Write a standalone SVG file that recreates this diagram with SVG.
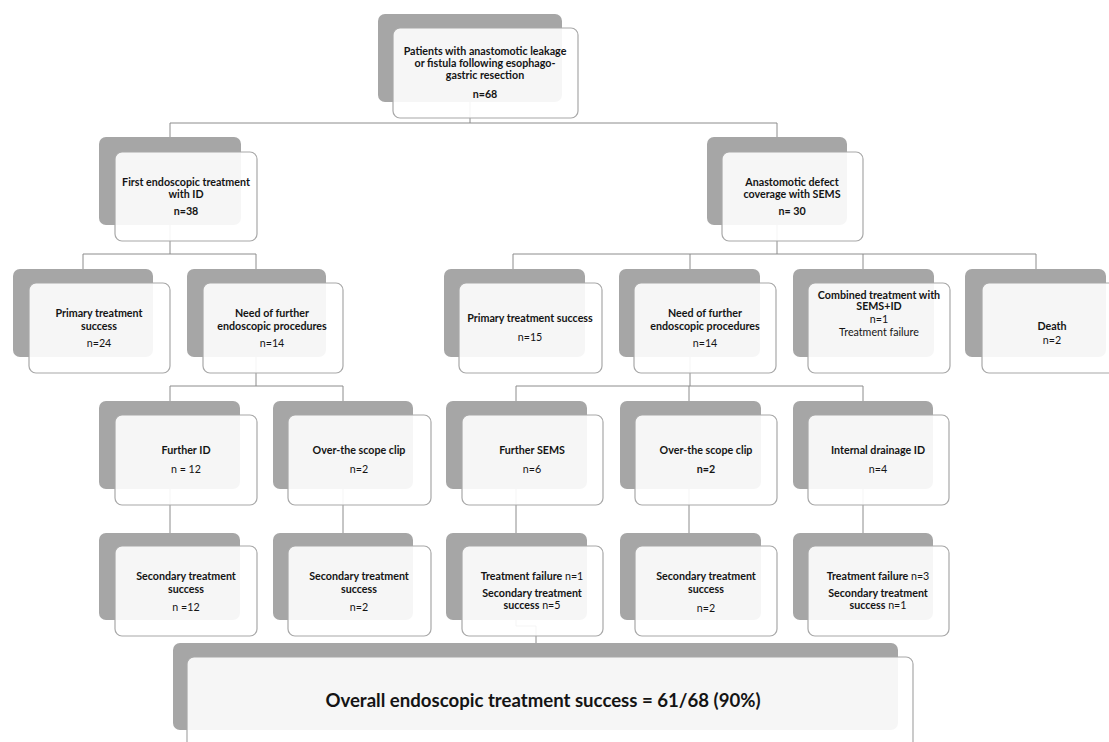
<svg xmlns="http://www.w3.org/2000/svg" width="1109" height="742" viewBox="0 0 1109 742">
<style>
.bg{fill:#a6a6a6;}
.fg{fill:#ffffff;fill-opacity:0.9;stroke:#a8a8a8;stroke-width:1.2;}
.c{fill:none;stroke:#8c8c8c;stroke-width:1;}
text{font-family:Lato,"Liberation Sans",sans-serif;font-size:10.7px;fill:#141414;text-anchor:middle;}
.b{font-weight:bold;}
.n{font-weight:normal;}
.big{font-size:18.6px;font-weight:bold;}
</style>
<rect width="1109" height="742" fill="#ffffff"/>
<g id="connectors">
<path class="c" d="M470,102V123M170,123H777M170,123V137M777,123V137"/>
<path class="c" d="M170,225V254M83,254H256M83,254V269M256,254V269"/>
<path class="c" d="M777,225V254M513,254H1036M513,254V269M690,254V269M863,254V269M1036,254V269"/>
<path class="c" d="M256,357V386M170,386H343M170,386V401M343,386V401"/>
<path class="c" d="M690,357V386M516,386H863M516,386V401M689,386V401M863,386V401"/>
<path class="c" d="M170,489V533M343,489V533M516,489V533M689,489V533M863,489V533"/>
<path class="c" d="M516,620V626H536V643"/>
</g>
<g id="n_top">
<rect class="bg" x="378" y="14" width="184" height="88" rx="7"/>
<rect class="fg" x="393" y="28" width="185" height="90" rx="7"/>
<text class="b" x="485" y="55">Patients with anastomotic leakage</text>
<text class="b" x="485" y="67">or fistula following esophago-</text>
<text class="b" x="485" y="79">gastric resection</text>
<text class="b" x="485" y="98">n=68</text>
</g>
<g id="n_first_id">
<rect class="bg" x="99" y="137" width="142" height="88" rx="7"/>
<rect class="fg" x="115" y="152" width="142" height="89" rx="7"/>
<text class="b" x="186" y="186">First endoscopic treatment</text>
<text class="b" x="186" y="198">with ID</text>
<text class="b" x="186" y="215">n=38</text>
</g>
<g id="n_sems">
<rect class="bg" x="707" y="137" width="140" height="88" rx="7"/>
<rect class="fg" x="722" y="152" width="141" height="89" rx="7"/>
<text class="b" x="792" y="186">Anastomotic defect</text>
<text class="b" x="792" y="198">coverage with SEMS</text>
<text class="b" x="792" y="215">n= 30</text>
</g>
<g id="n_primary_id">
<rect class="bg" x="13" y="269" width="140" height="88" rx="7"/>
<rect class="fg" x="29" y="283" width="141" height="90" rx="7"/>
<text class="b" x="99" y="317">Primary treatment</text>
<text class="b" x="99" y="330">success</text>
<text class="n" x="99" y="347">n=24</text>
</g>
<g id="n_further_id_need">
<rect class="bg" x="187" y="269" width="139" height="88" rx="7"/>
<rect class="fg" x="203" y="283" width="140" height="90" rx="7"/>
<text class="b" x="272" y="317">Need of further</text>
<text class="b" x="272" y="330">endoscopic procedures</text>
<text class="n" x="272" y="347">n=14</text>
</g>
<g id="n_primary_sems">
<rect class="bg" x="444" y="269" width="141" height="88" rx="7"/>
<rect class="fg" x="459" y="283" width="143" height="90" rx="7"/>
<text class="b" x="530" y="322">Primary treatment success</text>
<text class="n" x="530" y="341">n=15</text>
</g>
<g id="n_further_sems_need">
<rect class="bg" x="619" y="269" width="141" height="88" rx="7"/>
<rect class="fg" x="634" y="283" width="142" height="90" rx="7"/>
<text class="b" x="705" y="317">Need of further</text>
<text class="b" x="705" y="330">endoscopic procedures</text>
<text class="n" x="705" y="347">n=14</text>
</g>
<g id="n_combined">
<rect class="bg" x="793" y="269" width="141" height="88" rx="7"/>
<rect class="fg" x="808" y="283" width="142" height="90" rx="7"/>
<text class="b" x="879" y="299">Combined treatment with</text>
<text class="b" x="879" y="310">SEMS+ID</text>
<text class="n" x="879" y="323">n=1</text>
<text class="n" x="879" y="336">Treatment failure</text>
</g>
<g id="n_death">
<rect class="bg" x="965" y="269" width="141" height="88" rx="7"/>
<rect class="fg" x="982" y="283" width="142" height="90" rx="7"/>
<text class="b" x="1052" y="330">Death</text>
<text class="n" x="1052" y="344">n=2</text>
</g>
<g id="n_further_id">
<rect class="bg" x="99" y="401" width="141" height="88" rx="7"/>
<rect class="fg" x="115" y="415" width="142" height="90" rx="7"/>
<text class="b" x="186" y="454">Further ID</text>
<text class="n" x="186" y="473">n = 12</text>
</g>
<g id="n_otsc_left">
<rect class="bg" x="273" y="401" width="140" height="88" rx="7"/>
<rect class="fg" x="288" y="415" width="143" height="90" rx="7"/>
<text class="b" x="359" y="454">Over-the scope clip</text>
<text class="n" x="359" y="473">n=2</text>
</g>
<g id="n_further_sems">
<rect class="bg" x="446" y="401" width="141" height="88" rx="7"/>
<rect class="fg" x="462" y="415" width="141" height="90" rx="7"/>
<text class="b" x="532" y="454">Further SEMS</text>
<text class="n" x="532" y="473">n=6</text>
</g>
<g id="n_otsc_right">
<rect class="bg" x="620" y="401" width="141" height="88" rx="7"/>
<rect class="fg" x="635" y="415" width="142" height="90" rx="7"/>
<text class="b" x="706" y="454">Over-the scope clip</text>
<text class="b" x="706" y="473">n=2</text>
</g>
<g id="n_internal_drainage">
<rect class="bg" x="793" y="401" width="140" height="88" rx="7"/>
<rect class="fg" x="808" y="415" width="141" height="90" rx="7"/>
<text class="b" x="878" y="454">Internal drainage ID</text>
<text class="n" x="878" y="473">n=4</text>
</g>
<g id="n_sec_id">
<rect class="bg" x="99" y="533" width="141" height="87" rx="7"/>
<rect class="fg" x="115" y="546" width="142" height="90" rx="7"/>
<text class="b" x="186" y="580">Secondary treatment</text>
<text class="b" x="186" y="593">success</text>
<text class="n" x="186" y="611">n =12</text>
</g>
<g id="n_sec_otsc_left">
<rect class="bg" x="273" y="533" width="140" height="87" rx="7"/>
<rect class="fg" x="288" y="546" width="143" height="90" rx="7"/>
<text class="b" x="359" y="580">Secondary treatment</text>
<text class="b" x="359" y="593">success</text>
<text class="n" x="359" y="611">n=2</text>
</g>
<g id="n_sec_sems">
<rect class="bg" x="446" y="533" width="141" height="87" rx="7"/>
<rect class="fg" x="462" y="546" width="141" height="90" rx="7"/>
<text x="532" y="580"><tspan class="b">Treatment failure</tspan><tspan class="n"> n=1</tspan></text>
<text class="b" x="532" y="597">Secondary treatment</text>
<text x="532" y="609"><tspan class="b">success</tspan><tspan class="n">  n=5</tspan></text>
</g>
<g id="n_sec_otsc_right">
<rect class="bg" x="620" y="533" width="141" height="87" rx="7"/>
<rect class="fg" x="635" y="546" width="142" height="90" rx="7"/>
<text class="b" x="706" y="580">Secondary treatment</text>
<text class="b" x="706" y="593">success</text>
<text class="n" x="706" y="612">n=2</text>
</g>
<g id="n_sec_drainage">
<rect class="bg" x="793" y="533" width="140" height="87" rx="7"/>
<rect class="fg" x="808" y="546" width="141" height="90" rx="7"/>
<text x="878" y="580"><tspan class="b">Treatment failure</tspan><tspan class="n"> n=3</tspan></text>
<text class="b" x="878" y="597">Secondary treatment</text>
<text x="878" y="609"><tspan class="b">success</tspan><tspan class="n"> n=1</tspan></text>
</g>
<g id="n_overall">
<rect class="bg" x="173" y="643" width="725" height="87" rx="7"/>
<rect class="fg" x="187" y="657" width="726" height="100" rx="7"/>
<text class="big" x="543" y="707">Overall endoscopic treatment success = 61/68 (90%)</text>
</g>
</svg>
